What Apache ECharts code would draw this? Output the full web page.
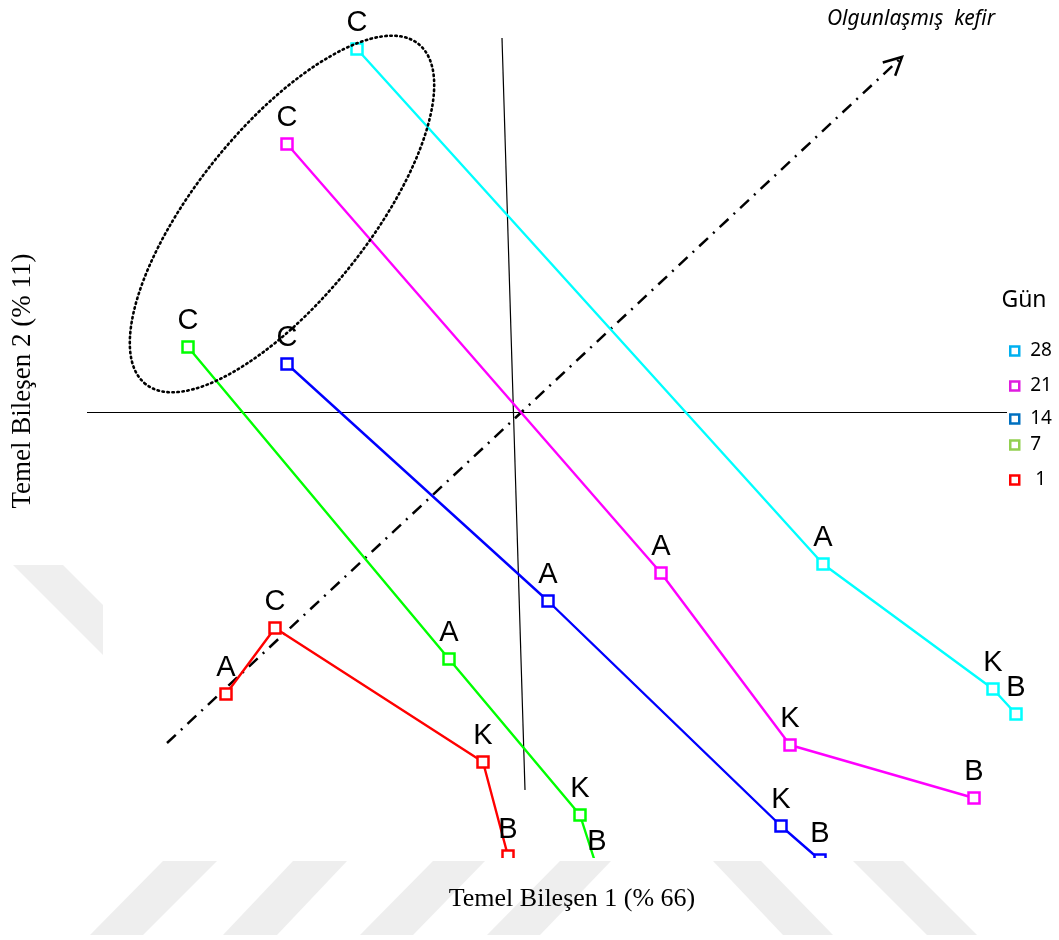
<!DOCTYPE html>
<html>
<head>
<meta charset="utf-8">
<script src="https://cdn.jsdelivr.net/npm/echarts@6/dist/echarts.min.js"></script>
<style>
  html, body { margin: 0; padding: 0; background: #fff; }
  #main { width: 1059px; height: 940px; }
</style>
</head>
<body>
<div id="main"></div>
<script>
// Gün (day) groups
const days = ['28', '21', '14', '7', '1'];
const legendLabels = ['28', '21', '14', '7', ' 1'];

// Temel Bileşen 1 / Temel Bileşen 2 scores, point order = line order
const pc1_28 = [-1.57, 3.09, 4.79, 5.02];
const pc2_28 = [3.64, -1.51, -2.76, -3.01];
const lbl_28 = ['C', 'A', 'K', 'B'];

const pc1_21 = [-2.27, 1.47, 2.76, 4.60];
const pc2_21 = [2.69, -1.60, -3.32, -3.85];
const lbl_21 = ['C', 'A', 'K', 'B'];

const pc1_14 = [-2.27, 0.34, 2.67, 3.06];
const pc2_14 = [0.49, -1.88, -4.13, -4.47];
const lbl_14 = ['C', 'A', 'K', 'B'];

const pc1_7 = [-3.26, -0.65, 0.66, 0.83];
const pc2_7 = [0.66, -2.46, -4.02, -4.55];
const lbl_7 = ['C', 'A', 'K', 'B'];

const pc1_1 = [-2.88, -2.39, -0.31, -0.06];
const pc2_1 = [-2.81, -2.15, -3.49, -4.43];
const lbl_1 = ['A', 'C', 'K', 'B'];

// reference lines (score units)
const axisH = [[-4.27, 0.005], [4.93, 0.005]];
const axisV = [[-0.12, 3.75], [0.11, -3.77]];
const ripening = [[-3.47, -3.30], [3.88, 3.56]];   // "Olgunlaşmış kefir" direction
const groupC = { cx: -2.32, cy: 1.99, rx: 2.18, ry: 0.86, angle: 51.2 };

const pc1 = [pc1_28, pc1_21, pc1_14, pc1_7, pc1_1];
const pc2 = [pc2_28, pc2_21, pc2_14, pc2_7, pc2_1];
const lbls = [lbl_28, lbl_21, lbl_14, lbl_7, lbl_1];

const lineColors = ['#00FFFF', '#FF00FF', '#0000FF', '#00FF00', '#FF0000'];
const legendColors = ['#00B0F0', '#E01CE0', '#0070C0', '#92D050', '#FF0000'];
const legendY = [351, 386, 419, 445, 480];

const chart = echarts.init(document.getElementById('main'));

const groupSeries = days.map((d, i) => ({
  name: d,
  type: 'line',
  data: pc1[i].map((v, j) => [v, pc2[i][j], lbls[i][j]]),
  symbol: 'rect',
  symbolSize: 11,
  z: 3,
  lineStyle: { color: lineColors[i], width: 2.4 },
  itemStyle: { color: '#fff', borderColor: lineColors[i], borderWidth: 2.5 },
  label: {
    show: true,
    position: 'top',
    distance: 5,
    formatter: (p) => p.value[2],
    color: '#000',
    fontSize: 29,
    fontFamily: 'Liberation Sans'
  },
  emphasis: { disabled: true }
}));

const refLine = (data, style) => ({
  type: 'line',
  data: data,
  symbol: 'none',
  silent: true,
  z: 1,
  lineStyle: style
});

const option = {
  animation: false,
  grid: { left: 0, right: 0, top: 0, bottom: 0 },
  xAxis: { type: 'value', min: -5.14, max: 5.45, show: false },
  yAxis: { type: 'value', min: -5.27, max: 4.13, show: false },
  legend: days.map((d, i) => ({
    data: [{ name: d, itemStyle: { color: '#fff', borderColor: legendColors[i], borderWidth: 2.5 } }],
    left: 1009,
    top: legendY[i] - 10,
    padding: 0,
    icon: 'rect',
    itemWidth: 9,
    itemHeight: 9,
    selectedMode: false,
    formatter: () => legendLabels[i],
    textStyle: { fontSize: 19, fontFamily: 'Noto Sans', color: '#000', lineHeight: 20, padding: [0, 0, 0, 6] }
  })),
  series: [
    refLine(axisH, { color: '#000', width: 1 }),
    refLine(axisV, { color: '#000', width: 1.2 }),
    refLine(ripening, { color: '#000', width: 2.5, type: [12, 7, 2, 7] }),
    ...groupSeries
  ]
};
chart.setOption(option);

// annotations placed from score units
const toPx = (p) => chart.convertToPixel({ gridIndex: 0 }, p);
const c0 = toPx([groupC.cx, groupC.cy]);
const c1 = toPx([groupC.cx + groupC.rx, groupC.cy]);
const c2 = toPx([groupC.cx, groupC.cy + groupC.ry]);

const tip = toPx(ripening[1]);
const tail = toPx(ripening[0]);
const back = Math.atan2(tail[1] - tip[1], tail[0] - tip[0]);
const arm = (a) => [tip[0] + 20 * Math.cos(back + a), tip[1] + 20 * Math.sin(back + a)];
const spread = 27 * Math.PI / 180;

const stripes = [
  [[163, 861], [217, 861], [143, 935], [90, 935]],
  [[293, 861], [347, 861], [277, 935], [223, 935]],
  [[433, 861], [485, 861], [413, 935], [360, 935]],
  [[560, 861], [611, 861], [540, 935], [487, 935]],
  [[713, 861], [761, 861], [833, 935], [783, 935]],
  [[853, 861], [903, 861], [977, 935], [927, 935]]
];

chart.setOption({
  graphic: [
    {
      type: 'polygon', z: 0, silent: true,
      shape: { points: [[13, 565], [63, 565], [103, 605], [103, 655]] },
      style: { fill: '#efefef' }
    },
    {
      type: 'ellipse', z: 5, silent: true,
      x: c0[0], y: c0[1], rotation: groupC.angle * Math.PI / 180,
      shape: { cx: 0, cy: 0, rx: Math.abs(c1[0] - c0[0]), ry: Math.abs(c2[1] - c0[1]) },
      style: { fill: 'transparent', stroke: '#000', lineWidth: 2.6, lineDash: [1.5, 3.5], lineCap: 'round' }
    },
    {
      type: 'polyline', z: 5, silent: true,
      shape: { points: [arm(spread), tip, arm(-spread)] },
      style: { stroke: '#000', lineWidth: 2.5, fill: null }
    },
    {
      type: 'rect', z: 20, silent: true,
      shape: { x: 0, y: 858, width: 1059, height: 82 },
      style: { fill: '#fff' }
    },
    ...stripes.map((pts) => ({
      type: 'polygon', z: 21, silent: true,
      shape: { points: pts },
      style: { fill: '#eeeeee' }
    })),
    {
      type: 'text', z: 22, x: 572, y: 899,
      style: {
        text: 'Temel Bileşen 1 (% 66)', fill: '#000',
        font: '26px "Liberation Serif"', textAlign: 'center', textVerticalAlign: 'middle'
      }
    },
    {
      type: 'text', z: 22, x: 23, y: 381, rotation: Math.PI / 2,
      style: {
        text: 'Temel Bileşen 2 (% 11)', fill: '#000',
        font: '27px "Liberation Serif"', textAlign: 'center', textVerticalAlign: 'middle'
      }
    },
    {
      type: 'text', z: 22, x: 911, y: 19,
      style: {
        text: 'Olgunlaşmış  kefir', fill: '#000',
        font: 'italic 21px "Noto Sans"', textAlign: 'center', textVerticalAlign: 'middle'
      }
    },
    {
      type: 'text', z: 22, x: 1024, y: 300,
      style: {
        text: 'Gün', fill: '#000',
        font: '23px "Noto Sans"', textAlign: 'center', textVerticalAlign: 'middle'
      }
    }
  ]
});
</script>
</body>
</html>
